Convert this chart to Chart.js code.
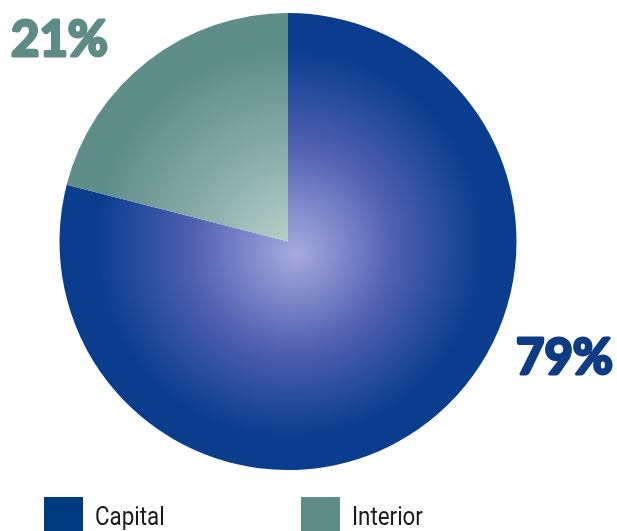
<!DOCTYPE html>
<html>
<head>
<meta charset="utf-8">
<script src="https://cdn.jsdelivr.net/npm/chart.js@4"></script>
<style>
  html, body { margin: 0; padding: 0; background: #ffffff; }
  #wrap { position: relative; width: 617px; height: 531px; overflow: hidden; }
  #shareChart { position: absolute; left: 0; top: 0; }
  .legend_item { position: absolute; top: 497px; height: 34px; display: flex; align-items: flex-start; }
  .legend_box { width: 39px; height: 34px; }
  .legend_text
  {
    margin-left: 12px;
    font-family: "Roboto", sans-serif;
    font-size: 26px;
    line-height: 26px;
    color: #1a1a1a;
    margin-top: 6px;
    transform: scaleX(0.86);
    transform-origin: left center;
  }
</style>
</head>
<body>
<div id="wrap">
  <canvas id="shareChart" width="617" height="531"></canvas>
  <div id="legend"></div>
</div>
<script>
const categories = ["Capital", "Interior"]
const shares = [79, 21]
const share_labels = ["79%", "21%"]

const edge_colours = ["#0a3d8e", "#5f8d8a"]
const mid_colours = ["#4f5fb0", "#86aba8"]
const core_colours = ["#a8aade", "#bdd3ce"]
const legend_colours = ["#003a80", "#5f8b89"]
const text_colours = ["#0d3c85", "#5f8b87"]

const legend_left = [44, 301]

// each slice gets a radial gradient centred a little below the pie centre
function slice_fill(context)
{
  const chart = context.chart
  const area = chart.chartArea
  if (!area) return edge_colours[context.dataIndex]

  const cx = (area.left + area.right) / 2
  const cy = (area.top + area.bottom) / 2
  const r = Math.min(area.right - area.left, area.bottom - area.top) / 2
  const i = context.dataIndex

  const grad = chart.ctx.createRadialGradient(cx + 8, cy + 12, 0, cx, cy, r)
  grad.addColorStop(0, core_colours[i])
  grad.addColorStop(0.45, mid_colours[i])
  grad.addColorStop(0.85, edge_colours[i])
  grad.addColorStop(1, edge_colours[i])
  return grad
}

// percentage labels placed outside the pie, relative to its radius
const share_label_plugin =
{
  id: "shareLabels",
  afterDatasetsDraw(chart, args, opts)
  {
    const ctx = chart.ctx
    const arcs = chart.getDatasetMeta(0).data

    ctx.save()
    ctx.font = "bold 49px Lato, 'DejaVu Sans', sans-serif"
    ctx.textAlign = "center"
    ctx.textBaseline = "middle"
    ctx.lineJoin = "round"
    ctx.lineWidth = 3

    arcs.forEach((arc, i) =>
    {
      const spot = opts.spots[i]
      const x = arc.x + spot[0] * arc.outerRadius
      const y = arc.y + spot[1] * arc.outerRadius
      ctx.fillStyle = text_colours[i]
      ctx.strokeStyle = text_colours[i]
      // a thin stroke thickens the glyphs to a heavier weight
      ctx.strokeText(share_labels[i], x, y)
      ctx.fillText(share_labels[i], x, y)
    })

    ctx.restore()
  }
}

const chart_context = document.getElementById("shareChart").getContext("2d")

const share_chart = new Chart(chart_context,
{
  type: "pie",
  data:
  {
    labels: categories,
    datasets:
    [
      {
        data: shares,
        backgroundColor: slice_fill,
        borderWidth: 0
      }
    ]
  },
  options:
  {
    responsive: false,
    animation: false,
    layout:
    {
      padding: { left: 59.5, top: 13, right: 100.5, bottom: 61 }
    },
    plugins:
    {
      legend: { display: false },
      tooltip: { enabled: false },
      shareLabels:
      {
        spots: [[1.21, 0.51], [-1.0, -0.88]]
      }
    }
  },
  plugins: [share_label_plugin]
})

const legend_div = document.getElementById("legend")

categories.forEach((name, i) =>
{
  const item = document.createElement("div")
  item.className = "legend_item"
  item.style.left = legend_left[i] + "px"

  const box = document.createElement("div")
  box.className = "legend_box"
  box.style.background = legend_colours[i]

  const text = document.createElement("span")
  text.className = "legend_text"
  text.textContent = name

  item.appendChild(box)
  item.appendChild(text)
  legend_div.appendChild(item)
})
</script>
</body>
</html>
